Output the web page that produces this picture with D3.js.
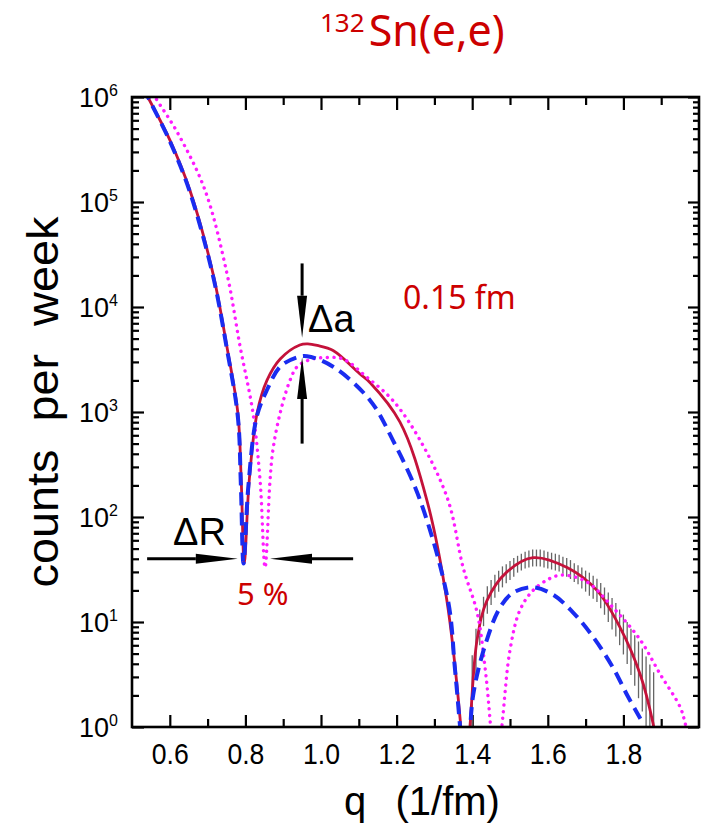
<!DOCTYPE html>
<html>
<head>
<meta charset="utf-8">
<script src="https://cdn.jsdelivr.net/npm/d3@7"></script>
<style>
  body { margin: 0; background: #fff; }
  svg { display: block; }
</style>
</head>
<body>
<div class="chart"></div>
<script>
// values: q in 1/fm, counts per week

// red solid curve
var redQ = [0.53, 0.542, 0.60, 0.653, 0.714, 0.751, 0.780, 0.789, 0.797, 0.810, 0.831, 0.857, 0.892, 0.944, 0.965, 0.99, 1.032, 1.103, 1.13, 1.209, 1.280, 1.333, 1.368, 1.381, 1.394, 1.413, 1.439, 1.492, 1.561, 1.651, 1.730, 1.791, 1.844, 1.878, 1.89];
var redCounts = [1.22e6, 1.0e6, 3.9e5, 1.3e5, 2.1e4, 4200, 980, 220, 36, 220, 980, 2000, 3200, 4350, 4450, 4300, 3850, 2300, 1900, 800, 145, 16, 1.2, 0.25, 1.0, 6.8, 16, 30, 41, 33, 20, 8.9, 3.2, 1.1, 0.6];

// blue dashed curve
var blueQ = [0.53, 0.542, 0.60, 0.653, 0.714, 0.751, 0.780, 0.788, 0.795, 0.808, 0.830, 0.857, 0.892, 0.935, 0.963, 1.032, 1.13, 1.19, 1.262, 1.336, 1.354, 1.368, 1.385, 1.402, 1.439, 1.474, 1.508, 1.561, 1.614, 1.667, 1.720, 1.772, 1.812, 1.845];
var blueCounts = [1.22e6, 1.0e6, 3.8e5, 1.25e5, 2.0e4, 4000, 900, 200, 36, 200, 900, 1620, 2700, 3300, 3400, 2700, 1290, 540, 145, 16, 3.7, 1.0, 0.2, 1.95, 6.8, 13.8, 19, 21.4, 18.2, 12.3, 7.2, 3.7, 1.95, 1.2];

// magenta dotted curve
var magentaQ = [0.548, 0.561, 0.62, 0.693, 0.751, 0.786, 0.820, 0.839, 0.852, 0.865, 0.873, 0.892, 0.918, 0.937, 0.971, 1.010, 1.058, 1.121, 1.19, 1.262, 1.336, 1.376, 1.413, 1.434, 1.447, 1.462, 1.481, 1.50, 1.526, 1.561, 1.606, 1.640, 1.704, 1.772, 1.844, 1.897, 1.950, 1.963, 1.975];
var magentaCounts = [1.22e6, 1.0e6, 4.6e5, 1.3e5, 2.1e4, 4200, 980, 220, 33, 220, 440, 980, 2000, 2700, 3150, 3300, 3200, 2150, 1290, 540, 145, 33, 12.3, 3.7, 1.2, 0.25, 1.26, 5.4, 12.9, 20, 26, 28, 24, 13.8, 6.8, 3.2, 1.55, 1.1, 0.7];

// error bars on the second maximum (centre in counts, half length in decades)
var errQ = [1.40, 1.41, 1.42, 1.43, 1.44, 1.45, 1.46, 1.47, 1.48, 1.49, 1.50, 1.51, 1.52, 1.53, 1.54, 1.55, 1.56, 1.57, 1.58, 1.59, 1.60, 1.61, 1.62, 1.63, 1.64, 1.65, 1.66, 1.67, 1.68, 1.69, 1.70, 1.71, 1.72, 1.73, 1.74, 1.75, 1.76, 1.77, 1.78, 1.79, 1.80, 1.81, 1.82, 1.83, 1.84, 1.85, 1.86, 1.87, 1.88];
var errMid = [2.2, 5.2, 8.9, 12.6, 16.2, 19.1, 21.9, 24.5, 26.9, 28.8, 30.9, 33.1, 35.5, 37.2, 38.9, 39.8, 40.7, 40.7, 40.7, 39.8, 38.9, 38.0, 37.2, 36.3, 34.7, 33.1, 31.6, 29.5, 28.2, 26.3, 24.5, 22.9, 21.4, 20.0, 17.8, 15.8, 13.8, 12.0, 10.5, 8.9, 7.6, 6.3, 5.2, 4.3, 3.5, 2.8, 2.1, 1.5, 1.05];
var errSize = [0.34, 0.22, 0.17, 0.14, 0.13, 0.12, 0.11, 0.10, 0.10, 0.09, 0.09, 0.09, 0.08, 0.08, 0.08, 0.08, 0.08, 0.08, 0.08, 0.08, 0.08, 0.08, 0.08, 0.08, 0.08, 0.09, 0.09, 0.09, 0.09, 0.10, 0.10, 0.11, 0.11, 0.11, 0.12, 0.13, 0.14, 0.15, 0.16, 0.17, 0.19, 0.20, 0.22, 0.24, 0.27, 0.30, 0.35, 0.42, 0.50];

// ticks
var xMajor = [0.6, 0.8, 1.0, 1.2, 1.4, 1.6, 1.8];
var xMinor = [0.7, 0.9, 1.1, 1.3, 1.5, 1.7, 1.9];
var yDecades = [0, 1, 2, 3, 4, 5, 6];

var svgWidth = 706;
var svgHeight = 831;

var margin = {
  top: 97,
  right: 7,
  bottom: 104,
  left: 132
};

var chartWidth = svgWidth - margin.left - margin.right;
var chartHeight = svgHeight - margin.top - margin.bottom;

var svg = d3.select(".chart")
  .append("svg")
  .attr("width", svgWidth)
  .attr("height", svgHeight);

var chartGroup = svg.append("g")
  .attr("transform", `translate(${margin.left}, ${margin.top})`);

// scales
var xScale = d3.scaleLinear()
  .domain([0.5, 2.0])
  .range([0, chartWidth]);

var yScale = d3.scaleLog()
  .domain([1, 1e6])
  .range([chartHeight, 0]);

var yMajor = yDecades.map(e => Math.pow(10, e));
var yMinor = [];
yDecades.slice(0, 6).forEach(function (e) {
  for (var m = 2; m <= 9; m++) yMinor.push(m * Math.pow(10, e));
});

// clip for curves
svg.append("defs").append("clipPath")
  .attr("id", "plot-clip")
  .append("rect")
  .attr("width", chartWidth)
  .attr("height", chartHeight);

// axes, all ticks pointing inwards
function addAxis(axis, values, size, transform) {
  var g = chartGroup.append("g")
    .attr("transform", transform)
    .call(axis.tickValues(values).tickSize(-size).tickFormat(""));
  g.select(".domain").remove();
  g.selectAll("line").attr("stroke", "#000").attr("stroke-width", 2.2);
  return g;
}

addAxis(d3.axisBottom(xScale), xMinor, 8, `translate(0, ${chartHeight})`);
addAxis(d3.axisTop(xScale), xMinor, 8, "translate(0, 0)");
addAxis(d3.axisTop(xScale), xMajor, 13, "translate(0, 0)");
addAxis(d3.axisLeft(yScale), yMinor, 7, "translate(0, 0)");
addAxis(d3.axisLeft(yScale), yMajor, 12, "translate(0, 0)");
addAxis(d3.axisRight(yScale), yMinor, 6, `translate(${chartWidth}, 0)`);
addAxis(d3.axisRight(yScale), yMajor, 11, `translate(${chartWidth}, 0)`);

var numFont = "'Liberation Sans', Arial, sans-serif";

// bottom major ticks with labels
var xAxisG = chartGroup.append("g")
  .attr("transform", `translate(0, ${chartHeight})`)
  .call(d3.axisBottom(xScale)
    .tickValues(xMajor)
    .tickSize(-12)
    .tickPadding(16)
    .tickFormat(d3.format(".1f")));
xAxisG.select(".domain").remove();
xAxisG.selectAll("line").attr("stroke", "#000").attr("stroke-width", 2.2);
xAxisG.selectAll("text")
  .attr("font-family", numFont)
  .attr("font-size", 30)
  .attr("textLength", 37)
  .attr("lengthAdjust", "spacingAndGlyphs")
  .attr("fill", "#000");

// y tick labels as 10 with superscript
var yLabels = chartGroup.append("g");
yLabels.selectAll(".ybase")
  .data(yMajor)
  .enter()
  .append("text")
  .attr("x", -23)
  .attr("y", d => yScale(d) + 10)
  .attr("text-anchor", "end")
  .attr("font-family", numFont)
  .attr("font-size", 27)
  .text("10");
yLabels.selectAll(".yexp")
  .data(yDecades)
  .enter()
  .append("text")
  .attr("x", -23)
  .attr("y", d => yScale(Math.pow(10, d)) - 1)
  .attr("font-family", numFont)
  .attr("font-size", 16)
  .text(d => d);

// curves
var curvesGroup = chartGroup.append("g")
  .attr("clip-path", "url(#plot-clip)");

var line = d3.line()
  .x(d => xScale(d[0]))
  .y(d => yScale(d[1]))
  .curve(d3.curveCatmullRom.alpha(0.5));

// error bars under the red line
curvesGroup.selectAll(".err")
  .data(d3.zip(errQ, errMid, errSize))
  .enter()
  .append("line")
  .attr("x1", d => xScale(d[0]))
  .attr("x2", d => xScale(d[0]))
  .attr("y1", d => yScale(d[1] * Math.pow(10, d[2])))
  .attr("y2", d => yScale(d[1] / Math.pow(10, d[2])))
  .attr("stroke", "#666")
  .attr("stroke-width", 1.3);

curvesGroup.append("path")
  .datum(d3.zip(redQ, redCounts))
  .attr("d", line)
  .attr("fill", "none")
  .attr("stroke", "#c4123a")
  .attr("stroke-width", 2.8);

curvesGroup.append("path")
  .datum(d3.zip(magentaQ, magentaCounts))
  .attr("d", line)
  .attr("fill", "none")
  .attr("stroke", "#ff1aff")
  .attr("stroke-width", 3.4)
  .attr("stroke-linecap", "round")
  .attr("stroke-dasharray", "0.1,6.6");

curvesGroup.append("path")
  .datum(d3.zip(blueQ, blueCounts))
  .attr("d", line)
  .attr("fill", "none")
  .attr("stroke", "#1a2cf0")
  .attr("stroke-width", 4)
  .attr("stroke-dasharray", "13,7");

// frame
chartGroup.append("rect")
  .attr("width", chartWidth)
  .attr("height", chartHeight)
  .attr("fill", "none")
  .attr("stroke", "#000")
  .attr("stroke-width", 2.6);

// arrows (annotation ends given in data units)
function arrow(q1, c1, q2, c2) {
  var x1 = xScale(q1), y1 = yScale(c1), x2 = xScale(q2), y2 = yScale(c2);
  var len = Math.hypot(x2 - x1, y2 - y1);
  var ux = (x2 - x1) / len, uy = (y2 - y1) / len;
  var headLen = 42, headW = 5;
  var bx = x2 - ux * headLen, by = y2 - uy * headLen;
  chartGroup.append("line")
    .attr("x1", x1).attr("y1", y1)
    .attr("x2", bx).attr("y2", by)
    .attr("stroke", "#000")
    .attr("stroke-width", 3);
  chartGroup.append("path")
    .attr("d", `M${x2},${y2}L${bx - uy * headW},${by + ux * headW}L${bx + uy * headW},${by - ux * headW}Z`)
    .attr("fill", "#000");
}

arrow(0.54, 40, 0.78, 40);
arrow(1.085, 40, 0.865, 40);
arrow(0.95, 26000, 0.95, 5100);
arrow(0.95, 500, 0.95, 3340);

// annotation texts
var labelFont = "'Liberation Sans', Arial, sans-serif";
var redFont = "'Comic Sans MS', 'Noto Sans', sans-serif";

svg.append("text")
  .attr("x", 173).attr("y", 545)
  .attr("font-family", labelFont)
  .attr("font-size", 38)
  .text("\u0394R");

svg.append("text")
  .attr("x", 308).attr("y", 332)
  .attr("font-family", labelFont)
  .attr("font-size", 38)
  .text("\u0394a");

svg.append("text")
  .attr("x", 403).attr("y", 309)
  .attr("font-family", redFont)
  .attr("font-size", 32)
  .attr("fill", "#cc0000")
  .text("0.15 fm");

svg.append("text")
  .attr("x", 237).attr("y", 605)
  .attr("font-family", redFont)
  .attr("font-size", 31)
  .attr("fill", "#cc0000")
  .text("5 %");

// title
var title = svg.append("text")
  .attr("x", 320).attr("y", 46)
  .attr("font-family", redFont)
  .attr("fill", "#cc0000");
title.append("tspan")
  .attr("font-size", 26)
  .attr("dy", -14)
  .text("132");
title.append("tspan")
  .attr("font-size", 43)
  .attr("dy", 14)
  .attr("dx", 4)
  .text("Sn(e,e)");

// axis titles
svg.append("text")
  .attr("transform", "translate(58, 402) rotate(-90)")
  .attr("text-anchor", "middle")
  .attr("font-family", labelFont)
  .attr("font-size", 44)
  .attr("textLength", 371)
  .attr("lengthAdjust", "spacingAndGlyphs")
  .attr("word-spacing", 14)
  .text("counts per week");

svg.append("text")
  .attr("x", 422).attr("y", 815)
  .attr("text-anchor", "middle")
  .attr("font-family", labelFont)
  .attr("font-size", 40)
  .attr("word-spacing", 18)
  .text("q (1/fm)");
</script>
</body>
</html>
